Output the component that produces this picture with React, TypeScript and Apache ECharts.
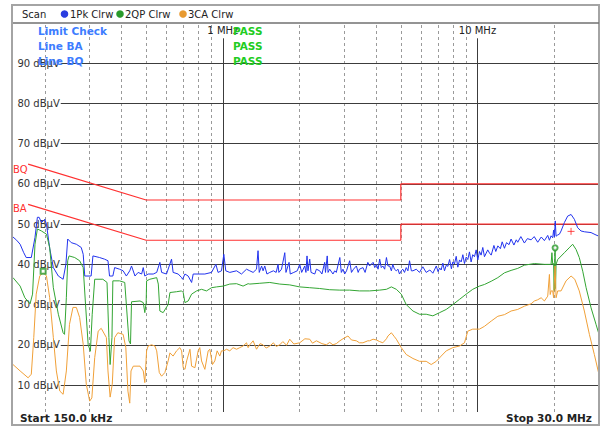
import React, { useEffect, useRef } from "react";
import * as echarts from "echarts";

const FREQ_MIN = 0.15;
const FREQ_MAX = 30;
const LEVEL_MIN = 3.3;
const LEVEL_MAX = 100;

const minorFreqs = [0.2, 0.3, 0.4, 0.5, 0.6, 0.7, 0.8, 0.9, 2, 3, 4, 5, 6, 7, 8, 9, 20];
const majorFreqs = [1, 10];
const majorFreqLabels = ["1 MHz", "10 MHz"];
const levelTicks = [10, 20, 30, 40, 50, 60, 70, 80, 90];
const gridLineStartFreq = 0.231;
const majorLineTop = 96.2;

const limitBQ = [[0.172, 64.9], [0.5, 56], [5, 56], [5, 60], [30, 60]];
const limitBA = [[0.172, 54.9], [0.5, 46], [5, 46], [5, 50], [30, 50]];

const peakTrace = [
  [0.150, 46.8], [0.155, 46], [0.160, 45], [0.165, 43], [0.169, 41.7], [0.177, 41.7], [0.183, 46.7], [0.187, 51.7],
  [0.190, 51.7], [0.194, 50.4], [0.200, 51.2], [0.203, 50], [0.209, 44], [0.216, 39.2], [0.226, 37.1], [0.236, 36.3],
  [0.242, 40], [0.246, 46.3], [0.254, 45.4], [0.266, 45], [0.278, 44.2], [0.283, 42.5], [0.287, 37.1], [0.304, 37.1],
  [0.309, 42.1], [0.328, 41.7], [0.343, 41.3], [0.354, 40.9], [0.359, 37.1], [0.370, 37.1], [0.376, 39.2], [0.393, 38.8],
  [0.406, 38.4], [0.418, 37.1], [0.431, 38.4], [0.438, 39.6], [0.452, 37.1], [0.465, 38], [0.480, 37.6], [0.487, 39.2],
  [0.494, 37.1], [0.509, 37.6], [0.533, 37.6], [0.550, 38], [0.566, 40.5], [0.575, 38], [0.601, 37.6], [0.629, 41.3],
  [0.638, 38], [0.668, 37.6], [0.689, 36.7], [0.695, 36.3], [0.710, 37.6], [0.731, 37.1], [0.754, 35.5], [0.765, 37.6],
  [0.800, 37.6], [0.850, 37.6], [0.903, 38], [0.939, 40], [0.958, 38], [0.988, 38.4], [1.009, 42.5], [1.027, 38.4],
  [1.065, 38], [1.132, 38.4], [1.184, 37.6], [1.239, 38.8], [1.276, 38.4], [1.315, 38], [1.356, 38.8], [1.375, 43.4],
  [1.39, 38], [1.42, 39.6], [1.439, 38.4], [1.461, 39.6], [1.49, 37.6], [1.529, 38], [1.58, 38.4], [1.62, 38],
  [1.648, 40], [1.66, 38], [1.70, 38.8], [1.751, 42.9], [1.77, 38], [1.82, 40.5], [1.84, 37.6], [1.90, 38],
  [1.96, 38.4], [2.004, 40], [2.04, 38], [2.097, 39.6], [2.12, 38], [2.141, 42.1], [2.16, 38.4], [2.194, 41.3],
  [2.22, 38], [2.296, 37.6], [2.33, 38.8], [2.40, 38.4], [2.45, 37.6], [2.512, 40.5], [2.53, 38], [2.57, 42.1],
  [2.59, 38], [2.628, 38.8], [2.707, 37.6], [2.75, 38.4], [2.79, 38], [2.88, 41.7], [2.92, 38], [2.963, 38.8],
  [3.01, 37.6], [3.06, 38.4], [3.148, 40.9], [3.20, 38], [3.26, 38.8], [3.345, 39.6], [3.40, 38], [3.44, 38.8],
  [3.55, 39.2], [3.62, 38], [3.71, 40.5], [3.77, 39.6], [3.89, 40.5], [3.95, 39.2], [4.01, 40], [4.07, 38.8],
  [4.13, 41.3], [4.19, 39.2], [4.25, 39.6], [4.32, 38.8], [4.39, 41.7], [4.45, 39.6], [4.52, 39.6], [4.59, 38.4],
  [4.65, 40], [4.72, 38.8], [4.80, 38.4], [4.87, 38.8], [4.94, 37.6], [5.02, 38.4], [5.09, 38.8], [5.17, 38],
  [5.25, 39.2], [5.33, 38.4], [5.41, 40.9], [5.50, 38.4], [5.58, 38.4], [5.75, 38.8], [5.92, 38], [6.1, 39.4],
  [6.29, 38], [6.5, 38.6], [6.68, 37.8], [6.89, 39.6], [7.0, 38.2], [7.10, 39.1], [7.2, 38.6], [7.31, 40.3],
  [7.42, 38.4], [7.54, 39.8], [7.65, 39.5], [7.77, 41.2], [7.9, 38.9], [8.0, 40.6], [8.12, 40.1], [8.25, 42],
  [8.37, 39.3], [8.50, 41.1], [8.63, 40.6], [8.76, 42.4], [8.89, 40.2], [9.03, 41.8], [9.16, 41.2], [9.30, 43.1],
  [9.44, 40.6], [9.58, 42.4], [9.73, 41.9], [9.88, 43.6], [10.03, 41.1], [10.18, 43.2], [10.33, 42.3], [10.49, 44.2],
  [10.65, 41.9], [10.97, 43.6], [11.15, 42.8], [11.32, 42.3], [11.6, 44.7], [11.8, 43.2], [12.02, 44.6], [12.3, 43.9],
  [12.5, 45.6], [12.76, 44], [13.0, 45.4], [13.3, 44.9], [13.55, 46.3], [13.9, 44.8], [14.2, 46.1], [14.39, 45.5],
  [14.8, 46.9], [15.28, 45.3], [15.7, 46.4], [16.24, 46.1], [16.7, 46.9], [17.24, 45.5], [17.8, 46.8], [18.31, 45.9],
  [18.87, 47.2], [19.16, 46], [19.45, 47.1], [19.74, 46.6], [19.9, 48.5], [20.05, 46.8], [20.2, 50.8], [20.35, 47],
  [20.65, 47.3], [20.97, 47.5], [21.29, 48.3], [21.94, 50.4], [22.6, 52], [23.31, 52.4], [24.01, 51.2], [24.74, 49.1],
  [25.5, 48.3], [26.28, 48.1], [27.92, 47.9], [29.2, 47.3], [30, 47],
];

const qpTrace = [
  [0.150, 36.7], [0.160, 34.6], [0.167, 31.7], [0.175, 30.2], [0.179, 32.6], [0.183, 45], [0.187, 48.8], [0.194, 48.3],
  [0.203, 47.5], [0.209, 44.2], [0.216, 34.2], [0.226, 27.6], [0.236, 23], [0.239, 22.6], [0.243, 31.7], [0.246, 40.9],
  [0.249, 42.1], [0.262, 41.7], [0.274, 40.9], [0.283, 39.2], [0.289, 30], [0.296, 20], [0.302, 18.4], [0.307, 27.6],
  [0.314, 36.3], [0.338, 36.3], [0.351, 35.5], [0.357, 21.8], [0.361, 15.1], [0.367, 21.8], [0.370, 35.9], [0.393, 35.9],
  [0.412, 35.5], [0.418, 30], [0.428, 21], [0.434, 20.2], [0.438, 30.7], [0.473, 30.9], [0.487, 30.5], [0.494, 28],
  [0.500, 30.5], [0.502, 35.9], [0.517, 36.3], [0.550, 36.7], [0.558, 35.1], [0.566, 28.4], [0.583, 28], [0.610, 30],
  [0.620, 33], [0.658, 33.2], [0.689, 33.4], [0.699, 33], [0.710, 30.5], [0.731, 30.9], [0.754, 32.6], [0.789, 33.4],
  [0.825, 33.8], [0.863, 33.4], [0.903, 34.2], [0.945, 34.4], [1.003, 34.6], [1.065, 35.1], [1.132, 35.2], [1.201, 34.6],
  [1.257, 35.2], [1.276, 35.1], [1.397, 35.3], [1.529, 35.5], [1.673, 35.1], [1.831, 34.9], [2.004, 34.4], [2.194, 34.2],
  [2.40, 34], [2.628, 33.7], [2.88, 33.6], [3.148, 33.6], [3.44, 33.4], [3.77, 33.4], [4.13, 33.6], [4.39, 33.8],
  [4.59, 34.4], [4.80, 33.8], [5.02, 32.6], [5.25, 30], [5.58, 28.4], [5.92, 27.6], [6.29, 27.6], [6.68, 27.2],
  [7.10, 28], [7.54, 28.8], [8.0, 30], [8.50, 31.3], [9.03, 32.6], [9.58, 33.8], [10.18, 34.6], [10.65, 35],
  [11.32, 35.8], [12.02, 36.7], [12.76, 37.9], [13.55, 38.5], [14.39, 39], [15.28, 39.8], [16.73, 40.2], [18.31, 40],
  [19.45, 40], [19.6, 42.9], [19.74, 40], [19.9, 40.2], [20.0, 33.5], [20.17, 44.1], [20.25, 34], [20.35, 40],
  [20.65, 41.2], [21.94, 42.9], [22.9, 44.1], [23.64, 45], [24.38, 43.7], [25.1, 41.7], [25.9, 38.3], [26.7, 34.2],
  [27.92, 29.2], [29.2, 25.1], [30, 22.6],
];

const caTrace = [
  [0.150, 15.1], [0.160, 13.5], [0.172, 11.8], [0.177, 12.7], [0.181, 21.8], [0.185, 32.6], [0.191, 37.1], [0.197, 38],
  [0.203, 37.1], [0.209, 31.7], [0.216, 21.8], [0.222, 13.5], [0.229, 8.5], [0.236, 7.7], [0.243, 13.5], [0.250, 25.1],
  [0.258, 29.3], [0.266, 29.3], [0.274, 26.8], [0.283, 20.1], [0.291, 10.2], [0.300, 6], [0.306, 6.8], [0.314, 16.8],
  [0.324, 23.4], [0.333, 24.1], [0.349, 21.8], [0.354, 13.5], [0.361, 7], [0.368, 10.2], [0.376, 21.8], [0.387, 23],
  [0.406, 22.6], [0.416, 19.3], [0.424, 8.5], [0.431, 5.5], [0.436, 13.5], [0.445, 14.7], [0.473, 14.7], [0.487, 13.5],
  [0.494, 10.6], [0.502, 18.5], [0.509, 19.7], [0.525, 20], [0.541, 19.7], [0.550, 18.5], [0.563, 13.1], [0.575, 12.2],
  [0.592, 13.1], [0.610, 16], [0.620, 18], [0.638, 17.2], [0.658, 18.5], [0.678, 19.3], [0.689, 18.5], [0.699, 14.3],
  [0.710, 13.9], [0.721, 16], [0.743, 18.9], [0.754, 14.7], [0.777, 14.3], [0.800, 18.5], [0.812, 19.3], [0.825, 16],
  [0.850, 13.9], [0.876, 18.5], [0.889, 18.9], [0.911, 15.1], [0.930, 16], [0.950, 18.5], [0.973, 17.2], [0.988, 18.5],
  [1.009, 18.5], [1.034, 18.9], [1.065, 18.5], [1.097, 19.3], [1.132, 18.9], [1.166, 19.3], [1.201, 19.7], [1.239, 20.5],
  [1.257, 19.3], [1.276, 20], [1.315, 21], [1.356, 18.9], [1.40, 20.3], [1.439, 20], [1.48, 19.2], [1.529, 19.7],
  [1.58, 20.5], [1.62, 19.6], [1.673, 20], [1.72, 20.8], [1.78, 19.9], [1.831, 21.4], [1.9, 20.2], [2.004, 20.5],
  [2.1, 21.5], [2.194, 21.4], [2.25, 20.4], [2.33, 21], [2.45, 20.3], [2.55, 20], [2.628, 20.6], [2.707, 20],
  [2.79, 20.3], [2.88, 21], [2.963, 21.5], [3.10, 22.2], [3.2, 21.2], [3.345, 21], [3.44, 20.5], [3.55, 20.5],
  [3.71, 21], [3.77, 21], [3.89, 21.4], [4.01, 21.2], [4.13, 20.8], [4.25, 20.5], [4.39, 21.5], [4.45, 22.2],
  [4.59, 23], [4.72, 22], [4.80, 21.4], [5.02, 19.3], [5.25, 17.6], [5.58, 16.6], [5.92, 15.9], [6.29, 15.9],
  [6.58, 15.1], [6.89, 15.9], [7.20, 17.2], [7.54, 18.5], [8.0, 19.3], [8.5, 19.7], [8.89, 20.5], [9.16, 23.4],
  [9.58, 23.9], [10.18, 23.9], [10.65, 24.6], [11.32, 25.9], [12.02, 27.1], [12.76, 27.5], [13.55, 28.4], [14.39, 28.8],
  [15.28, 29.6], [16.24, 30.2], [16.73, 30.9], [17.24, 31.2], [17.78, 31.7], [18.31, 30.9], [18.87, 32.1], [19.16, 37.5],
  [19.3, 32.5], [19.45, 33.4], [19.74, 33.4], [19.9, 31.7], [20.17, 39.6], [20.35, 31.7], [20.65, 33.4], [21.29, 33.4],
  [22.27, 35.9], [23.31, 37.1], [24.1, 36.3], [25.1, 33.4], [26.28, 28.4], [27.5, 22.6], [28.76, 17.6], [30, 12.6],
];

const markerPlus = [[23.3, 48.2]];
const markerCircle = [[20.17, 44.1]];
const markerSquare = [[0.197, 38.3]];

const FONT = "DejaVu Sans";

export default function App() {
  const ref = useRef<HTMLDivElement>(null);

  useEffect(() => {
    if (!ref.current) return;
    const chart = echarts.init(ref.current, undefined, { renderer: "svg" });

    const txt = (x: number, y: number, text: string, fill: string, bold = false, size = 10, align = "left") => ({
      type: "text",
      x,
      y,
      z: 20,
      style: {
        text,
        fill,
        font: `${bold ? "bold " : ""}${size}px "${FONT}"`,
        textAlign: align,
        textVerticalAlign: "middle",
      },
    });

    const helper = (name: string) => ({
      name,
      type: "line",
      data: [[FREQ_MIN, LEVEL_MIN]],
      symbol: "none",
      lineStyle: { opacity: 0 },
      silent: true,
      z: 1,
    });

    const option: any = {
      animation: false,
      backgroundColor: "#ffffff",
      grid: { left: 13, right: 5, top: 23, bottom: 14, show: false },
      xAxis: {
        type: "log",
        logBase: 10,
        min: FREQ_MIN,
        max: FREQ_MAX,
        axisLine: { show: false },
        axisTick: { show: false },
        axisLabel: { show: false },
        splitLine: { show: false },
      },
      yAxis: {
        type: "value",
        min: LEVEL_MIN,
        max: LEVEL_MAX,
        axisLine: { show: false },
        axisTick: { show: false },
        axisLabel: { show: false },
        splitLine: { show: false },
      },
      graphic: [
        {
          type: "rect",
          z: 30,
          shape: { x: 12, y: 5, width: 587, height: 420 },
          style: { fill: "none", stroke: "#a4a4a4", lineWidth: 2 },
        },
        {
          type: "line",
          z: 30,
          shape: { x1: 13, y1: 23, x2: 599, y2: 23 },
          style: { stroke: "#707070", lineWidth: 1.5 },
        },
        txt(22, 14, "Scan", "#222"),
        { type: "circle", z: 20, shape: { cx: 64.5, cy: 14, r: 3.8 }, style: { fill: "#2a3de0" } },
        txt(70, 14, "1Pk Clrw", "#222"),
        { type: "circle", z: 20, shape: { cx: 120, cy: 14, r: 3.8 }, style: { fill: "#2a9a2a" } },
        txt(125, 14, "2QP Clrw", "#222"),
        { type: "circle", z: 20, shape: { cx: 183, cy: 14, r: 3.8 }, style: { fill: "#e89a30" } },
        txt(188, 14, "3CA Clrw", "#222"),
        txt(38, 31, "Limit Check", "#3d7dff", true, 10.5),
        txt(38, 46, "Line BA", "#3d7dff", true, 10.5),
        txt(38, 61, "Line BQ", "#3d7dff", true, 10.5),
        txt(233, 31, "PASS", "#22cc22", true, 10.5),
        txt(233, 46, "PASS", "#22cc22", true, 10.5),
        txt(233, 61, "PASS", "#22cc22", true, 10.5),
        txt(13, 169, "BQ", "#ff3030", false, 10),
        txt(13, 208, "BA", "#ff3030", false, 10),
        txt(20, 418, "Start 150.0 kHz", "#222", true, 10.5),
        txt(592, 418, "Stop 30.0 MHz", "#222", true, 10.5, "right"),
      ],
      series: [
        {
          ...helper("dashed"),
          markLine: {
            z: 1,
            silent: true,
            symbol: ["none", "none"],
            label: { show: false },
            lineStyle: { color: "#9a9a9a", width: 1, type: [3, 3] },
            data: minorFreqs.map((f) => [{ coord: [f, LEVEL_MIN] }, { coord: [f, LEVEL_MAX] }]),
          },
        },
        {
          ...helper("levels"),
          markLine: {
            z: 1,
            silent: true,
            symbol: ["none", "none"],
            lineStyle: { color: "#3c3c3c", width: 1, type: "solid" },
            label: {
              show: true,
              position: "start",
              formatter: "{b}",
              color: "#333",
              fontSize: 10,
              fontFamily: FONT,
              distance: 1,
            },
            data: levelTicks.map((v) => [
              { coord: [gridLineStartFreq, v], name: `${v} dBµV` },
              { coord: [FREQ_MAX, v] },
            ]),
          },
        },
        {
          ...helper("decades"),
          markLine: {
            z: 1,
            silent: true,
            symbol: ["none", "none"],
            lineStyle: { color: "#3c3c3c", width: 1, type: "solid" },
            label: {
              show: true,
              position: "end",
              formatter: "{b}",
              color: "#222",
              fontSize: 10,
              fontFamily: FONT,
              distance: 3,
            },
            data: majorFreqs.map((f, i) => [
              { coord: [f, LEVEL_MIN], name: majorFreqLabels[i] },
              { coord: [f, majorLineTop] },
            ]),
          },
        },
        {
          name: "BQ",
          type: "line",
          data: limitBQ,
          symbol: "none",
          lineStyle: { color: "#ff3030", width: 1.2 },
          z: 8,
        },
        {
          name: "BA",
          type: "line",
          data: limitBA,
          symbol: "none",
          lineStyle: { color: "#ff3030", width: 1.2 },
          z: 8,
        },
        {
          name: "1Pk Clrw",
          type: "line",
          data: peakTrace,
          symbol: "none",
          lineStyle: { color: "#2233ee", width: 1 },
          z: 9,
        },
        {
          name: "2QP Clrw",
          type: "line",
          data: qpTrace,
          symbol: "none",
          lineStyle: { color: "#33a533", width: 1 },
          z: 10,
        },
        {
          name: "3CA Clrw",
          type: "line",
          data: caTrace,
          symbol: "none",
          lineStyle: { color: "#f0a038", width: 1 },
          z: 11,
        },
        {
          name: "M1",
          type: "scatter",
          data: markerPlus,
          symbol: "path://M0,5L10,5M5,0L5,10",
          symbolSize: 7,
          itemStyle: { color: "none", borderColor: "#ff2020", borderWidth: 1 },
          z: 12,
          silent: true,
        },
        {
          name: "M2",
          type: "scatter",
          data: markerCircle,
          symbol: "emptyCircle",
          symbolSize: 5,
          itemStyle: { color: "#2a9a2a", borderColor: "#2a9a2a", borderWidth: 1 },
          z: 12,
          silent: true,
        },
        {
          name: "M3",
          type: "scatter",
          data: markerSquare,
          symbol: "emptyRect",
          symbolSize: 5,
          itemStyle: { color: "#2a9a2a", borderColor: "#2a9a2a", borderWidth: 1 },
          z: 12,
          silent: true,
        },
      ],
    };

    chart.setOption(option);
    return () => chart.dispose();
  }, []);

  return (
    <div
      ref={ref}
      style={{ position: "fixed", left: 0, top: 0, width: 604, height: 426, background: "#fff" }}
    />
  );
}
